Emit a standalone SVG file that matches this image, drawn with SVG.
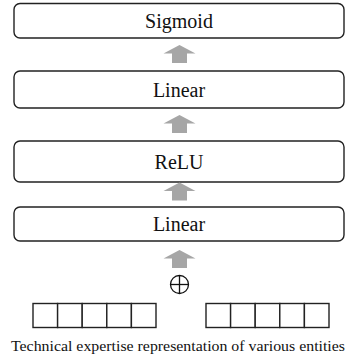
<svg xmlns="http://www.w3.org/2000/svg" width="349" height="358" viewBox="0 0 349 358">
<style>
.box{fill:#fff;stroke:#222;stroke-width:1.4}
.lbl{font-family:"Liberation Serif","Times New Roman",serif;font-size:20px;fill:#111;text-anchor:middle}
.cell{fill:#fff;stroke:#222;stroke-width:1.4}
.arr{fill:#a6a6a6}
.cap{font-family:"Liberation Serif","Times New Roman",serif;font-size:15.5px;fill:#111}
</style>
<defs>
<path id="ua" class="arr" d="M0 0 L16 8.5 L7.5 8.5 L7.5 18 L-7.5 18 L-7.5 8.5 L-16 8.5 Z"/>
</defs>
<g id="sigmoid"><rect class="box" x="14" y="3.5" width="330" height="34.5" rx="6"/><text class="lbl" x="179" y="28">Sigmoid</text></g>
<g id="linear2"><rect class="box" x="14" y="71" width="330" height="37" rx="6"/><text class="lbl" x="179" y="96.5">Linear</text></g>
<g id="relu"><rect class="box" x="14" y="141" width="330" height="41" rx="6"/><text class="lbl" x="179" y="168.5">ReLU</text></g>
<g id="linear1"><rect class="box" x="14" y="207" width="330" height="34" rx="6"/><text class="lbl" x="179" y="231">Linear</text></g>
<g id="connectors">
<use href="#ua" x="179.5" y="45"/>
<use href="#ua" x="179.5" y="115"/>
<use href="#ua" x="179.5" y="182.5"/>
<use href="#ua" x="179.5" y="250"/>
</g>
<g id="oplus" fill="none" stroke="#111" stroke-width="1.3">
<circle cx="179.5" cy="284.5" r="9"/>
<line x1="170.5" y1="284.5" x2="188.5" y2="284.5"/>
<line x1="179.5" y1="275.5" x2="179.5" y2="293.5"/>
</g>
<g id="vec-left">
<rect class="cell" x="33" y="303.5" width="24.6" height="24"/>
<rect class="cell" x="57.6" y="303.5" width="24.6" height="24"/>
<rect class="cell" x="82.2" y="303.5" width="24.6" height="24"/>
<rect class="cell" x="106.8" y="303.5" width="24.6" height="24"/>
<rect class="cell" x="131.4" y="303.5" width="24.6" height="24"/>
</g>
<g id="vec-right">
<rect class="cell" x="206" y="303.5" width="24.6" height="24"/>
<rect class="cell" x="230.6" y="303.5" width="24.6" height="24"/>
<rect class="cell" x="255.2" y="303.5" width="24.6" height="24"/>
<rect class="cell" x="279.8" y="303.5" width="24.6" height="24"/>
<rect class="cell" x="304.4" y="303.5" width="24.6" height="24"/>
</g>
<text class="cap" x="11" y="350.5" textLength="334" lengthAdjust="spacingAndGlyphs">Technical expertise representation of various entities</text>
</svg>
